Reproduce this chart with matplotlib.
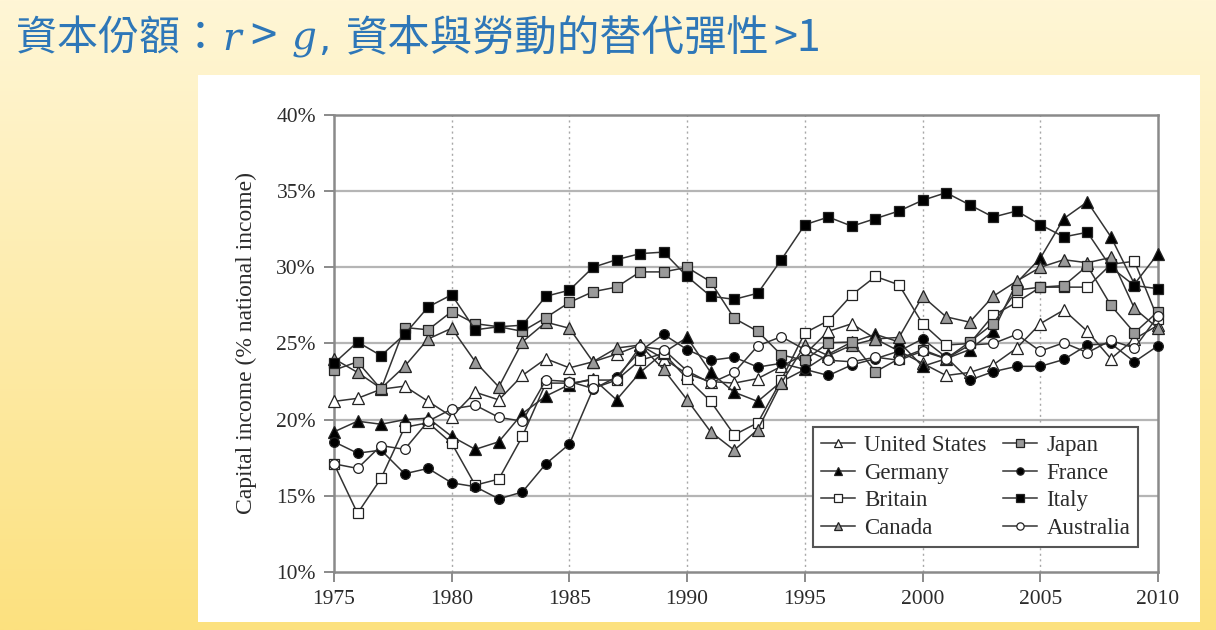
import matplotlib
matplotlib.use('Agg')
import matplotlib.pyplot as plt
import numpy as np
from matplotlib.colors import LinearSegmentedColormap
from matplotlib.patches import Rectangle

# Capital share of national income, 1975-2010
years = list(range(1975, 2011))

united_states = [21.2, 21.4, 22.0, 22.2, 21.2, 20.2, 21.8, 21.3, 22.9, 24.0,
                 23.4, 23.8, 24.3, 24.9, 24.0, 23.0, 22.5, 22.4, 22.7, 23.5,
                 24.3, 25.8, 26.3, 25.3, 24.5, 23.7, 22.9, 23.1, 23.6, 24.7,
                 26.3, 27.2, 25.8, 24.0, 25.3, 26.2]
germany = [19.2, 19.9, 19.7, 20.0, 20.1, 18.9, 18.05, 18.55, 20.4, 21.55,
           22.3, 22.7, 21.3, 23.1, 24.4, 25.4, 23.1, 21.8, 21.2, 22.5,
           23.3, 24.3, 25.1, 25.6, 25.1, 23.5, 24.0, 24.6, 25.8, 29.0,
           30.6, 33.2, 34.3, 32.0, 28.9, 30.9]
britain = [17.1, 13.85, 16.15, 19.5, 19.8, 18.45, 15.7, 16.1, 18.9, 22.4,
           22.4, 22.6, 22.6, 23.9, 24.35, 22.7, 21.2, 19.0, 19.8, 22.6,
           25.7, 26.5, 28.2, 29.4, 28.85, 26.3, 24.9, 25.0, 26.85, 27.7,
           28.7, 28.7, 28.7, 30.2, 30.4, 26.6]
canada = [24.0, 23.1, 22.05, 23.5, 25.3, 26.0, 23.8, 22.15, 25.1, 26.4,
          26.0, 23.8, 24.7, 24.9, 23.3, 21.3, 19.2, 18.0, 19.35, 22.4,
          24.9, 24.2, 24.9, 25.3, 25.4, 28.1, 26.75, 26.4, 28.1, 29.1,
          30.0, 30.5, 30.3, 30.65, 27.3, 26.0]
japan = [23.25, 23.8, 22.0, 26.05, 25.9, 27.1, 26.3, 26.1, 25.8, 26.7,
         27.7, 28.4, 28.7, 29.7, 29.7, 30.0, 29.05, 26.65, 25.8, 24.25,
         23.9, 25.05, 25.1, 23.15, 24.0, 24.6, 24.0, 25.1, 26.3, 28.5,
         28.7, 28.8, 30.1, 27.5, 25.7, 27.1]
france = [18.55, 17.8, 18.0, 16.45, 16.8, 15.85, 15.6, 14.8, 15.25, 17.1,
          18.4, 22.0, 22.8, 24.5, 25.6, 24.6, 23.9, 24.1, 23.45, 23.7,
          23.3, 22.9, 23.6, 24.0, 24.5, 25.3, 24.1, 22.6, 23.15, 23.5,
          23.5, 23.95, 24.9, 25.0, 23.8, 24.85]
italy = [23.7, 25.1, 24.2, 25.6, 27.4, 28.2, 25.9, 26.1, 26.2, 28.1,
         28.5, 30.0, 30.5, 30.9, 31.0, 29.4, 28.1, 27.9, 28.3, 30.5,
         32.8, 33.3, 32.7, 33.2, 33.7, 34.4, 34.9, 34.1, 33.3, 33.7,
         32.8, 32.0, 32.3, 30.0, 28.8, 28.6]
australia = [17.1, 16.8, 18.3, 18.05, 19.9, 20.7, 20.95, 20.15, 19.9, 22.6,
             22.5, 22.05, 22.6, 24.8, 24.6, 23.2, 22.4, 23.1, 24.85, 25.45,
             24.6, 23.9, 23.8, 24.1, 23.9, 24.5, 24.0, 24.9, 25.0, 25.6,
             24.5, 25.05, 24.4, 25.2, 24.7, 26.8]

series = [
    ('United States', united_states, '^', 'white'),
    ('Germany', germany, '^', 'black'),
    ('Britain', britain, 's', 'white'),
    ('Canada', canada, '^', '#9a9a9a'),
    ('Japan', japan, 's', '#9a9a9a'),
    ('France', france, 'o', 'black'),
    ('Italy', italy, 's', 'black'),
    ('Australia', australia, 'o', 'white'),
]

serif = 'Liberation Serif'
ink = '#2b2b2b'

fig = plt.figure(figsize=(12.16, 6.30), dpi=100)

# slide background: soft yellow gradient + white panel
bg = fig.add_axes([0, 0, 1, 1], zorder=-10)
grad = np.linspace(0, 1, 256).reshape(-1, 1)
cmap = LinearSegmentedColormap.from_list('slide', ['#FFF6D6', '#FCE17F'])
bg.imshow(grad, aspect='auto', cmap=cmap, extent=[0, 1, 0, 1], origin='upper')
bg.add_patch(Rectangle((0.163, 0.0127), 0.824, 0.868, transform=bg.transAxes,
                       facecolor='white', edgecolor='none'))
bg.set_xlim(0, 1)
bg.set_ylim(0, 1)
bg.axis('off')

# title, built from pieces (CJK + italic math letters)
blue = '#2E77B8'
ty = 1 - 39 / 630
cjk = ['Noto Sans CJK TC', 'DejaVu Sans']
fig.text(16 / 1216, ty, '資本份額：', family=cjk, fontsize=29.5, color=blue, va='center')
fig.text(222 / 1216, ty, 'r', family='DejaVu Serif', style='italic', fontsize=28,
         color=blue, va='center')
fig.text(250 / 1216, ty, '>', family=cjk, fontsize=34, color=blue, va='center')
fig.text(292 / 1216, ty, 'g', family='DejaVu Serif', style='italic', fontsize=28,
         color=blue, va='center')
fig.text(318 / 1216, ty, ',', family='DejaVu Sans', fontsize=28, color=blue, va='center')
fig.text(346 / 1216, ty, '資本與勞動的替代彈性', family=cjk, fontsize=30.5,
         color=blue, va='center')
fig.text(773 / 1216, ty, '>1', family=cjk, fontsize=31, color=blue, va='center')

# main chart
ax = fig.add_axes([334 / 1216, 1 - 572 / 630, 824 / 1216, 457 / 630])
ax.set_facecolor('none')

for y in [15, 20, 25, 30, 35]:
    ax.axhline(y, color='#b5b5b5', lw=1.6, zorder=1)
for x in [1980, 1985, 1990, 1995, 2000, 2005]:
    ax.axvline(x, color='#a8a8a8', lw=1.0, ls=(0, (1.5, 2.5)), zorder=1)

for name, vals, marker, face in series:
    ms = 7.5 if marker == 's' else (7.0 if marker == 'o' else 8.0)
    ax.plot(years, vals, color='#333333', lw=1.1, marker=marker, ms=ms,
            mfc=face, mec='#222222', mew=0.9, label=name, clip_on=False, zorder=3)

ax.set_xlim(1975, 2010)
ax.set_ylim(10, 40)
ax.set_xticks(range(1975, 2011, 5))
ax.set_yticks(range(10, 41, 5))
ax.set_yticklabels([f'{v}%' for v in range(10, 41, 5)])
ax.tick_params(direction='out', length=7, width=1.2, color='#777777',
               labelsize=15.5, labelcolor=ink, pad=6)
for lab in ax.get_xticklabels() + ax.get_yticklabels():
    lab.set_family(serif)
for side in ['left', 'right', 'top', 'bottom']:
    ax.spines[side].set_color('#8a8a8a')
    ax.spines[side].set_linewidth(1.8)

ax.set_ylabel('Capital income (% national income)', family=serif, fontsize=17,
              color=ink, labelpad=14)

leg = ax.legend(ncol=2, loc='lower right', bbox_to_anchor=(0.99, 0.03),
                prop={'family': serif, 'size': 16.5}, frameon=True, fancybox=False,
                edgecolor='#555555', framealpha=1, handlelength=1.5,
                handletextpad=0.4, columnspacing=0.7, labelspacing=0.28,
                borderpad=0.35, markerscale=0.75)
leg.get_frame().set_linewidth(1.5)
for t in leg.get_texts():
    t.set_color(ink)

fig.savefig('out.png', dpi=100)
